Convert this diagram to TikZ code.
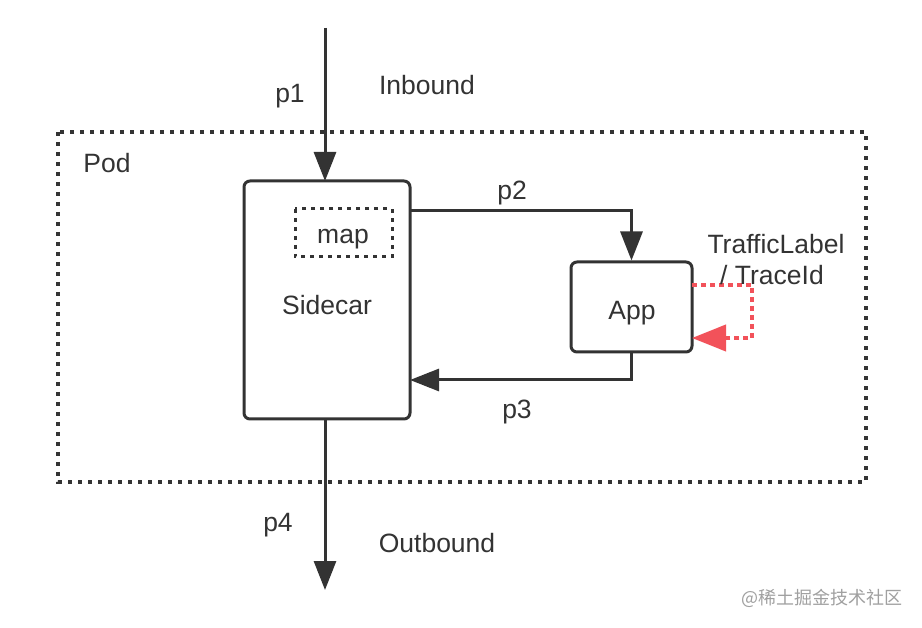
\documentclass[tikz,border=0pt]{standalone}
\usepackage{fontspec}
\setmainfont{Liberation Sans}
\newfontfamily\cjk{Noto Sans CJK SC}
\usetikzlibrary{arrows.meta}
\definecolor{ink}{HTML}{333333}
\definecolor{redline}{HTML}{F2525A}
\definecolor{wm}{HTML}{A0A0A0}
\tikzset{
  box/.style={draw=ink, line width=3pt, rounded corners=6pt},
  dotbox/.style={draw=ink, line width=3.5pt, dash pattern=on 4pt off 6pt},
  conn/.style={draw=ink, line width=3pt, -{Triangle[length=29pt,width=22pt]}},
  redconn/.style={draw=redline, line width=4pt, dash pattern=on 5pt off 4pt, -{Triangle[length=34pt,width=26pt]}},
  lbl/.style={text=ink, font=\fontsize{26.5}{30}\selectfont, inner sep=0pt},
}
\begin{document}
\begin{tikzpicture}[x=1pt,y=-1pt]
\useasboundingbox (0,0) rectangle (922,628);
\fill[white] (0,0) rectangle (922,628);
% Pod
\draw[dotbox] (58,132) rectangle (866,482);
\node[lbl] (pod) at (107,163) {Pod};
% Sidecar
\draw[box] (244,181) rectangle (410,419);
\coordinate (sctop) at (325,181);
\coordinate (scbot) at (325,419);
\coordinate (scp2) at (410,211);
\coordinate (scp3) at (410,380);
\node[lbl] (sidecar) at (327,305) {Sidecar};
% map
\draw[draw=ink, line width=3pt, dash pattern=on 4pt off 5pt] (295,209) rectangle (392,257);
\node[lbl] (map) at (343,239) {map};
% App
\node[box, minimum width=121pt, minimum height=90pt, inner sep=0pt] (app) at (631.5,307) {};
\node[lbl] (applbl) at (632,313) {App};
% flows
\coordinate (top) at (325,28);
\coordinate (bot) at (325,590);
\draw[conn] (top) -- (sctop);
\draw[conn] (scp2) -| (app.north);
\draw[conn] (app.south) |- (scp3);
\draw[conn] (scbot) -- (bot);
% red loop
\coordinate (r1) at (692,285);
\coordinate (r2) at (692,338);
\draw[redconn] (r1) -- (752,285) -- (752,338) -- (r2);
% labels
\node[lbl] (p1) at (290,96) {p1};
\node[lbl] (inb) at (427,85) {Inbound};
\node[lbl] (p2) at (512,193) {p2};
\node[lbl] (p3) at (517,412) {p3};
\node[lbl] (p4) at (278,525) {p4};
\node[lbl] (outb) at (437,543) {Outbound};
\node[lbl] (tl) at (776,244) {TrafficLabel};
\node[lbl] (ti) at (772,275) {/ TraceId};
\node[text=wm, font=\cjk\fontsize{18}{20}\selectfont, inner sep=0pt] (wmk) at (822,598) {@稀土掘金技术社区};
\end{tikzpicture}
\end{document}
